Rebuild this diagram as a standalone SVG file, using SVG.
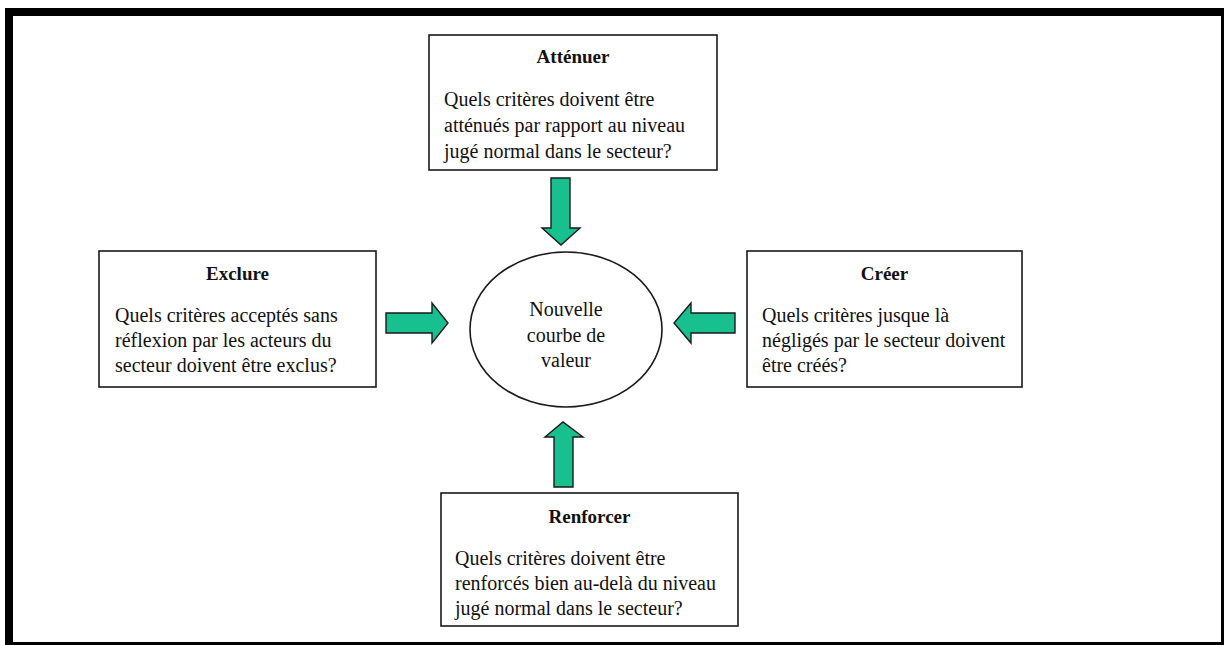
<svg xmlns="http://www.w3.org/2000/svg" width="1227" height="645" viewBox="0 0 1227 645">
<style>
.box{fill:#fff;stroke:#1a1a1a;stroke-width:1.6}
.t{font-family:"Liberation Serif","Times New Roman",serif;font-size:20px;fill:#111}
.h{font-family:"Liberation Serif","Times New Roman",serif;font-size:19px;font-weight:bold;fill:#111;text-anchor:middle}
.c{text-anchor:middle}
.arr{fill:#19C08F;stroke:#1a1a1a;stroke-width:1.4;stroke-linejoin:miter}
</style>
<rect x="0" y="0" width="1227" height="645" fill="#fff"/>
<path d="M5 8H1224V645H5Z M13 16V642H1221V16Z" fill="#000" fill-rule="evenodd"/>
<g id="node-attenuer">
<rect class="box" x="429" y="35" width="288" height="135"/>
<text class="h" x="573" y="63">Atténuer</text>
<text class="t" x="444" y="106">Quels critères doivent être</text>
<text class="t" x="444" y="132">atténués par rapport au niveau</text>
<text class="t" x="444" y="158">jugé normal dans le secteur?</text>
</g>
<g id="node-exclure">
<rect class="box" x="99" y="251" width="277" height="136"/>
<text class="h" x="237.5" y="280">Exclure</text>
<text class="t" x="115" y="322">Quels critères acceptés sans</text>
<text class="t" x="115" y="347">réflexion par les acteurs du</text>
<text class="t" x="115" y="372">secteur doivent être exclus?</text>
</g>
<g id="node-creer">
<rect class="box" x="747" y="251" width="275" height="136"/>
<text class="h" x="884.5" y="280">Créer</text>
<text class="t" x="762" y="322">Quels critères jusque là</text>
<text class="t" x="762" y="347">négligés par le secteur doivent</text>
<text class="t" x="762" y="372">être créés?</text>
</g>
<g id="node-renforcer">
<rect class="box" x="441" y="493" width="297" height="133"/>
<text class="h" x="589.5" y="523">Renforcer</text>
<text class="t" x="455" y="565">Quels critères doivent être</text>
<text class="t" x="455" y="590">renforcés bien au-delà du niveau</text>
<text class="t" x="455" y="615">jugé normal dans le secteur?</text>
</g>
<g id="node-center">
<ellipse class="box" cx="566" cy="329.5" rx="96" ry="77.5"/>
<text class="t c" x="566" y="316">Nouvelle</text>
<text class="t c" x="566" y="342">courbe de</text>
<text class="t c" x="566" y="367">valeur</text>
</g>
<g id="connectors">
<path class="arr" d="M551 178H570V228H580L561 245L542 228H551Z"/>
<path class="arr" d="M386 313H432V303L448 323L432 343V333H386Z"/>
<path class="arr" d="M735 313H691V303L674 323L691 343V333H735Z"/>
<path class="arr" d="M554 487V437H545L563 422L583 437H573V487Z"/>
</g>
</svg>
